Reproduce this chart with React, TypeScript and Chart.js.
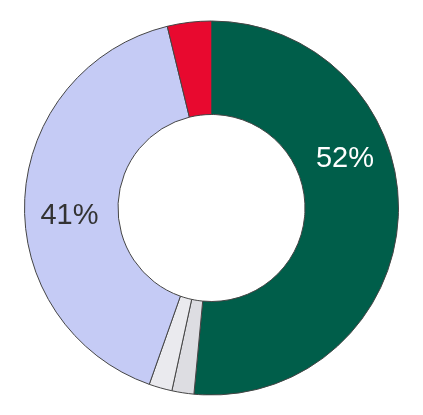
import React, { useEffect, useRef } from "react";
import { Chart, registerables } from "chart.js";

Chart.register(...registerables);

const categories = ["A", "B", "C", "D", "E"];
const values = [51.5, 1.9, 2.0, 40.8, 3.8];
const colors = ["#005E4A", "#DDDDE2", "#EAEAEE", "#C5CBF5", "#E8092F"];
const labelTexts = ["52%", "", "", "41%", ""];
const labelColors = ["#FFFFFF", "#333333", "#333333", "#333333", "#333333"];
const labelFractions = [0.376, 0.5, 0.5, 0.458, 0.5];

const labelPlugin = {
  id: "sliceLabels",
  afterDatasetsDraw(chart: any) {
    const ctx = chart.ctx;
    const meta = chart.getDatasetMeta(0);
    ctx.save();
    ctx.font = '29px "Liberation Sans", Arial, sans-serif';
    ctx.textAlign = "center";
    ctx.textBaseline = "middle";
    meta.data.forEach((arc: any, i: number) => {
      const text = labelTexts[i];
      if (!text) return;
      const p = arc.getProps(["x", "y", "startAngle", "endAngle", "innerRadius", "outerRadius"], true);
      const a = p.startAngle + labelFractions[i] * (p.endAngle - p.startAngle);
      const r = (p.innerRadius + p.outerRadius) / 2 + 2;
      ctx.fillStyle = labelColors[i];
      ctx.fillText(text, p.x + Math.cos(a) * r, p.y + Math.sin(a) * r);
    });
    ctx.restore();
  },
};

export default function App() {
  const ref = useRef<HTMLCanvasElement>(null);
  useEffect(() => {
    if (!ref.current) return;
    const chart = new Chart(ref.current, {
      type: "doughnut",
      data: {
        labels: categories,
        datasets: [
          {
            data: values,
            backgroundColor: colors,
            borderColor: "#444444",
            borderWidth: 1,
            hoverOffset: 0,
            offset: 0,
          },
        ],
      },
      options: {
        responsive: false,
        animation: false,
        cutout: "50%",
        layout: { padding: { left: 24, right: 24, top: 20, bottom: 19 } },
        plugins: {
          legend: { display: false },
          tooltip: { enabled: false },
        },
      },
      plugins: [labelPlugin],
    });
    return () => chart.destroy();
  }, []);
  return (
    <div style={{ position: "fixed", left: 0, top: 0, width: 423, height: 415, background: "#fff" }}>
      <canvas ref={ref} width={423} height={415} style={{ width: 423, height: 415 }} />
    </div>
  );
}
